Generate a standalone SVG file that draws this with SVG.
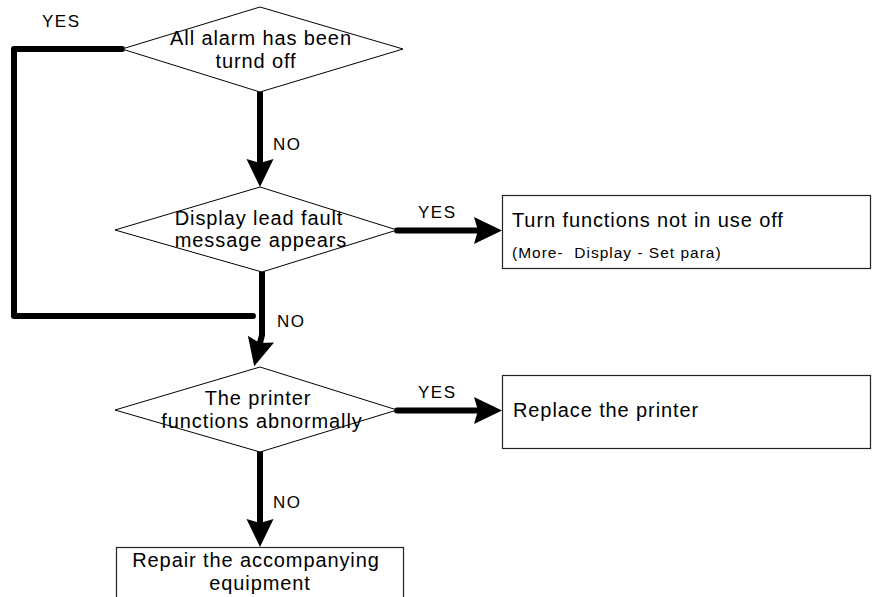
<svg xmlns="http://www.w3.org/2000/svg" width="872" height="597" viewBox="0 0 872 597">
<style>
.shape{fill:#fff;stroke:#000;stroke-width:1}
.box{fill:#fff;stroke:#222;stroke-width:1.2}
.t{font-family:"Liberation Sans",Arial,sans-serif;font-size:20px;letter-spacing:0.9px;fill:#000}
.s{font-family:"Liberation Sans",Arial,sans-serif;font-size:15.5px;letter-spacing:1px;fill:#000;white-space:pre}
.l{font-family:"Liberation Sans",Arial,sans-serif;font-size:17px;letter-spacing:1.5px;fill:#000}
.c{fill:none;stroke:#000;stroke-width:6;stroke-linecap:round;stroke-linejoin:round}
.m{text-anchor:middle}
</style>
<defs>
<marker id="ah" markerUnits="userSpaceOnUse" markerWidth="30" markerHeight="28" refX="4" refY="13.5" orient="auto" overflow="visible">
<path d="M0,0 L28,13.5 L0,27 L4,13.5 Z" fill="#000"/>
</marker>
</defs>
<g id="connectors">
<path class="c" d="M260,93 L260,163" marker-end="url(#ah)"/>
<path class="c" d="M122,49 L14,49 L14,316 L253,316"/>
<path class="c" d="M262,273 L262,335 L260,343" marker-end="url(#ah)"/>
<path class="c" d="M397,230.5 L478,230.5" marker-end="url(#ah)"/>
<path class="c" d="M397,410.5 L478,410.5" marker-end="url(#ah)"/>
<path class="c" d="M260,452 L260,523" marker-end="url(#ah)"/>
<text class="l" x="42" y="27">YES</text>
<text class="l" x="273" y="150">NO</text>
<text class="l" x="418" y="218">YES</text>
<text class="l" x="277" y="327">NO</text>
<text class="l" x="418" y="398">YES</text>
<text class="l" x="273" y="508">NO</text>
</g>
<g id="d1">
<polygon class="shape" points="260,7 403,49 260,92 122,49"/>
<text class="t m" x="261" y="45">All alarm has been</text>
<text class="t m" x="256" y="68">turnd off</text>
</g>
<g id="d2">
<polygon class="shape" points="260,187 397,230 262,272 115,230"/>
<text class="t m" x="259" y="225">Display lead fault</text>
<text class="t m" x="261" y="247">message appears</text>
</g>
<g id="d3">
<polygon class="shape" points="260,367 397,410 260,452 115,410"/>
<text class="t m" x="258" y="405">The printer</text>
<text class="t m" x="262" y="428">functions abnormally</text>
</g>
<g id="b1">
<rect class="box" x="502.5" y="195.5" width="368" height="73"/>
<text class="t" x="512" y="227">Turn functions not in use off</text>
<text class="s" x="512" y="258" xml:space="preserve">(More-  Display - Set para)</text>
</g>
<g id="b2">
<rect class="box" x="502.5" y="375.5" width="368" height="73"/>
<text class="t" x="513" y="417">Replace the printer</text>
</g>
<g id="b3">
<rect class="box" x="116.5" y="547.5" width="287" height="70"/>
<text class="t m" x="256" y="567">Repair the accompanying</text>
<text class="t m" x="260" y="590">equipment</text>
</g>
</svg>
